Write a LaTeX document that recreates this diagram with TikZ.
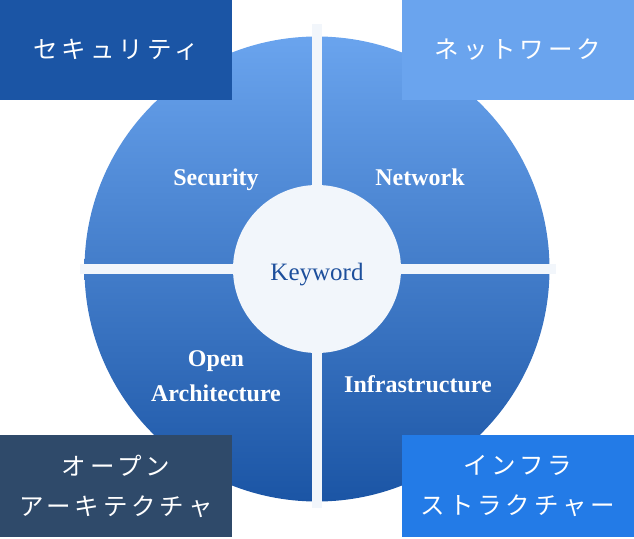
\documentclass[tikz,border=0pt]{standalone}
\usepackage{fontspec}
\setmainfont{Liberation Serif}
\newfontfamily\jpfont[LetterSpace=16]{Noto Sans CJK JP}
\usetikzlibrary{positioning}
\definecolor{kwnavy}{HTML}{1B55A5}
\definecolor{kwsky}{HTML}{6AA4EE}
\definecolor{kwslate}{HTML}{2F4A6A}
\definecolor{kwazure}{HTML}{237BE7}
\definecolor{kwpale}{HTML}{F2F6FB}
\definecolor{kwink}{HTML}{1D4F9C}

\begin{document}
\begin{tikzpicture}[x=1pt, y=-1pt,
      tag/.style={minimum width=232pt, inner sep=0pt, align=center, text=white,
                  font=\jpfont\fontsize{24.5}{40}\selectfont},
      field/.style={text=white, align=center, font=\fontsize{24}{35}\selectfont\bfseries},
      bar/.style={fill=kwpale}]
    \useasboundingbox (0,0) rectangle (634,538);
    \node[circle, minimum size=465pt, inner sep=0pt, top color=kwsky, bottom color=kwnavy] (disc) at (317,269) {};
    \fill[bar] (312,24) rectangle (322,508);
    \fill[bar] (80,264) rectangle (556,274);
    \node[circle, fill=kwpale, minimum size=168pt, inner sep=0pt, text=kwink,
          text height=22pt, text depth=0pt,
          font=\fontsize{25}{30}\selectfont] (key) at (317,269) {Keyword};
    \node[field] (security) at (216,180) {Security};
    \node[field] (network)  at (420,177) {Network};
    \node[field] (open)     at (216,376) {Open\\Architecture};
    \node[field] (infra)    at (418,384) {Infrastructure};
    \node[tag, fill=kwnavy,  minimum height=100pt] (secjp)   at (116,50)  {セキュリティ};
    \node[tag, fill=kwsky,   minimum height=100pt] (netjp)   at (518,50)  {ネットワーク};
    \node[tag, fill=kwslate, minimum height=102pt] (openjp)  at (116,486) {オープン\\アーキテクチャ};
    \node[tag, fill=kwazure, minimum height=102pt] (infrajp) at (518,486) {インフラ\\ストラクチャー};
  \end{tikzpicture}
\end{document}
